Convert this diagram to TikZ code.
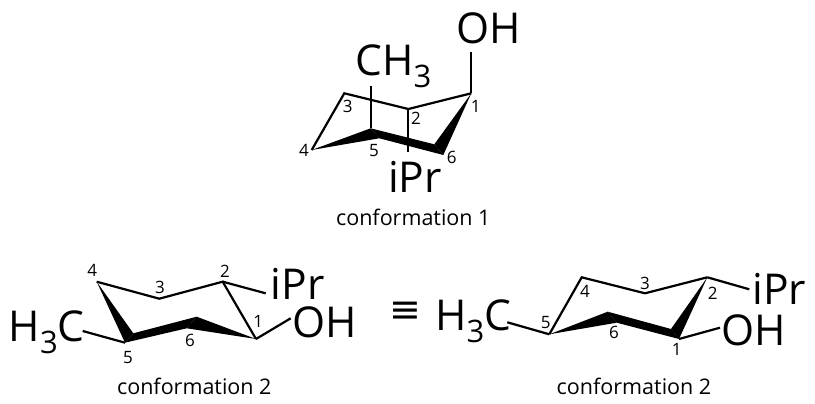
\documentclass[tikz,border=0pt]{standalone}
\usepackage{fontspec}
\setmainfont{Open Sans}
\newfontfamily\symfont{DejaVu Sans}
\newcommand{\subnum}[1]{\raisebox{-0.28em}{\fontsize{31}{33}\selectfont #1}}
\tikzset{
    bond/.style={line width=2.2pt,line join=miter},
    wedge/.style={fill=black,draw=none},
    atomlabel/.style={inner sep=0pt,font=\fontsize{42.5}{44}\selectfont},
    num/.style={inner sep=0pt,font=\fontsize{17}{19}\selectfont},
    caption/.style={inner sep=0pt,font=\fontsize{21.5}{24}\selectfont}
}
\begin{document}
\begin{tikzpicture}[x=1pt,y=-1pt]
    \useasboundingbox (0,0) rectangle (815,404);

    % Conformation 1 (top)
    \coordinate (a1) at (471.3,93.3);
    \coordinate (a2) at (408.3,109);
    \coordinate (a3) at (344.3,93.3);
    \coordinate (a4) at (311.7,150);
    \coordinate (a5u) at (370.7,128.3);
    \coordinate (a5d) at (379.3,138.3);
    \coordinate (a6u) at (434.3,144.3);
    \coordinate (a6d) at (443.3,155);
    \coordinate (aOH) at (471.3,52.3);
    \coordinate (aMe) at (370.7,86);
    \coordinate (aPr) at (408.3,151.7);
    \fill[wedge] (a4) -- (a5u) -- (a5d) -- cycle;
    \fill[wedge] (a5u) -- (a5d) -- (a6d) -- (a6u) -- cycle;
    \fill[wedge] (a1) -- (a6u) -- (a6d) -- cycle;
    \draw[bond] (a1) -- (a2) -- (a3) -- (a4);
    \draw[bond] (a1) -- (aOH);
    \draw[bond] (aMe) -- (a5u);
    \draw[bond] (a2) -- (aPr);
    \node[atomlabel] (aOHl) at (488.3,28) {OH};
    \node[atomlabel] (aMel) at (393.3,66.7) {CH\subnum{3}};
    \node[atomlabel] (aPrl) at (415,176.7) {iPr};
    \node[num] (an1) at (475.7,106.7) {1};
    \node[num] (an2) at (416,118.3) {2};
    \node[num] (an3) at (347.7,106.7) {3};
    \node[num] (an4) at (304,150) {4};
    \node[num] (an5) at (374,150.7) {5};
    \node[num] (an6) at (451.7,157.3) {6};
    \node[caption] (acap) at (413.3,217.3) {conformation 1};

    % Conformation 2 (left)
    \coordinate (b1) at (256,339);
    \coordinate (b2) at (222.7,281.7);
    \coordinate (b3) at (159.3,298.7);
    \coordinate (b4) at (96.7,281.7);
    \coordinate (b5u) at (133.3,333.3);
    \coordinate (b5d) at (125,342.7);
    \coordinate (b6u) at (196.7,316.7);
    \coordinate (b6d) at (186.7,328.3);
    \coordinate (bPr) at (265.7,293.3);
    \coordinate (bOH) at (290.7,318.3);
    \coordinate (bMe) at (82.7,331);
    \fill[wedge] (b4) -- (b5u) -- (b5d) -- cycle;
    \fill[wedge] (b5u) -- (b5d) -- (b6d) -- (b6u) -- cycle;
    \fill[wedge] (b1) -- (b6u) -- (b6d) -- cycle;
    \draw[bond] (b4) -- (b3) -- (b2) -- (b1);
    \draw[bond] (b2) -- (bPr);
    \draw[bond] (b1) -- (bOH);
    \draw[bond] (b5d) -- (bMe);
    \node[atomlabel] (bPrl) at (297.7,284.3) {iPr};
    \node[atomlabel] (bOHl) at (325,322.7) {OH};
    \node[atomlabel] (bMel) at (46.7,332) {H\subnum{3}C};
    \node[num] (bn1) at (258.3,321.7) {1};
    \node[num] (bn2) at (225,271) {2};
    \node[num] (bn3) at (160,287.7) {3};
    \node[num] (bn4) at (92.3,270) {4};
    \node[num] (bn5) at (128,357.3) {5};
    \node[num] (bn6) at (190,340) {6};
    \node[caption] (bcap) at (194.3,386) {conformation 2};

    \node[inner sep=0pt,font=\symfont\fontsize{38}{40}\selectfont] (equiv) at (405,312.7) {≡};

    % Conformation 2 (right)
    \coordinate (c1u) at (671,329);
    \coordinate (c1d) at (679,339);
    \coordinate (c2) at (707.3,277.3);
    \coordinate (c3) at (645,293.3);
    \coordinate (c4) at (581.7,277.3);
    \coordinate (c5) at (549.3,334.3);
    \coordinate (c6u) at (607.7,311.7);
    \coordinate (c6d) at (616.7,322.7);
    \coordinate (cMe) at (507.3,322.3);
    \coordinate (cOH) at (720,327.7);
    \coordinate (cPr) at (749.3,289.3);
    \fill[wedge] (c5) -- (c6u) -- (c6d) -- cycle;
    \fill[wedge] (c6u) -- (c6d) -- (c1d) -- (c1u) -- cycle;
    \fill[wedge] (c2) -- (c1u) -- (c1d) -- cycle;
    \draw[bond] (c2) -- (c3) -- (c4) -- (c5);
    \draw[bond] (c5) -- (cMe);
    \draw[bond] (c1d) -- (cOH);
    \draw[bond] (c2) -- (cPr);
    \node[atomlabel] (cMel) at (473.3,321.7) {H\subnum{3}C};
    \node[atomlabel] (cOHl) at (754,330) {OH};
    \node[atomlabel] (cPrl) at (779.3,289) {iPr};
    \node[num] (cn1) at (676.7,349) {1};
    \node[num] (cn2) at (712.7,293.3) {2};
    \node[num] (cn3) at (645,283.3) {3};
    \node[num] (cn4) at (585,291.7) {4};
    \node[num] (cn5) at (545.7,322.7) {5};
    \node[num] (cn6) at (614,332.3) {6};
    \node[caption] (ccap) at (634,386) {conformation 2};
\end{tikzpicture}
\end{document}
